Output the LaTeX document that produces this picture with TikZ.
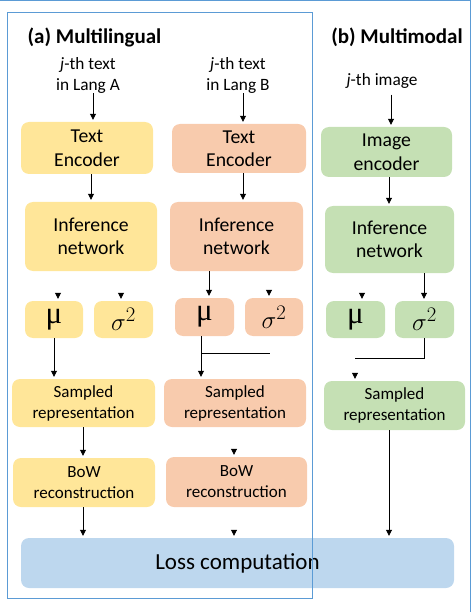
\documentclass[tikz,border=0pt]{standalone}
\usepackage{fontspec}
\setmainfont{Carlito}
\newfontfamily\grkfont{Liberation Serif}
\usetikzlibrary{arrows.meta,calc}
\definecolor{cyel}{HTML}{FFE699}
\definecolor{corg}{HTML}{F8CBAD}
\definecolor{cgrn}{HTML}{C5E0B4}
\definecolor{cblu}{HTML}{BDD7EE}
\definecolor{cfrm}{HTML}{5B9BD5}
\newcommand\fsml{\fontsize{17.3}{21}\selectfont}
\newcommand\fmid{\fontsize{17}{21}\selectfont}
\newcommand\fbig{\fontsize{19.7}{23.5}\selectfont}
\newcommand\fhuge{\fontsize{23}{26}\selectfont}
\newcommand\fttl{\fontsize{21}{24}\selectfont\bfseries}
\newcommand\fgrk{\fontsize{31}{34}\selectfont}
\begin{document}
\begin{tikzpicture}[x=1pt,y=-1pt,
  box/.style={rounded corners=8pt, inner sep=0pt, align=center, text=black},
  arr/.style={-{Triangle[length=6pt,width=6pt]}, line width=0.8pt, shorten >=2pt},
  plain/.style={line width=0.8pt},
  frm/.style={draw=cfrm, line width=1pt},
  lbl/.style={align=center, inner sep=0pt, font=\fsml}]
\useasboundingbox (0,0) rectangle (472,612);

% titles
\node[inner sep=0pt, font=\fttl] (ttlA) at (94.5,37) {(a) Multilingual};
\node[inner sep=0pt, font=\fttl] (ttlB) at (397,37) {(b) Multimodal};

% inputs
\node[lbl] (inA) at (88,75) {\textit{j}-th text\\ in Lang A};
\node[lbl] (inB) at (238,75) {\textit{j}-th text\\ in Lang B};
\node[lbl] (inC) at (382,81) {\textit{j}-th image};

% encoders
\node[box, fill=cyel, minimum width=132pt, minimum height=52pt, font=\fbig] (teA) at (87,148) {Text\\Encoder};
\node[box, fill=corg, minimum width=134pt, minimum height=49pt, font=\fbig] (teB) at (239,148.5) {Text\\Encoder};
\node[box, fill=cgrn, minimum width=131pt, minimum height=50pt, font=\fbig] (ieC) at (386.5,152) {Image\\encoder};

% inference
\node[box, fill=cyel, minimum width=132pt, minimum height=69pt, font=\fbig] (infA) at (91,236.5) {Inference\\network};
\node[box, fill=corg, minimum width=133pt, minimum height=69pt, font=\fbig] (infB) at (236.5,236.5) {Inference\\network};
\node[box, fill=cgrn, minimum width=129pt, minimum height=67pt, font=\fbig] (infC) at (389.5,239.5) {Inference\\network};

% mu / sigma
\node[box, fill=cyel, minimum width=58pt, minimum height=37pt] (muA) at (54,319.5) {\fgrk\grkfont μ};
\node[box, fill=cyel, minimum width=59pt, minimum height=37pt] (sgA) at (123.5,319.5) {\fgrk$\sigma^{2}$};
\node[box, fill=corg, minimum width=59pt, minimum height=38pt] (muB) at (204.5,317) {\fgrk\grkfont μ};
\node[box, fill=corg, minimum width=58pt, minimum height=38pt] (sgB) at (274,317) {\fgrk$\sigma^{2}$};
\node[box, fill=cgrn, minimum width=59pt, minimum height=37pt] (muC) at (355.5,319.5) {\fgrk\grkfont μ};
\node[box, fill=cgrn, minimum width=59pt, minimum height=37pt] (sgC) at (424.5,319.5) {\fgrk$\sigma^{2}$};

% sampled
\node[box, fill=cyel, minimum width=143pt, minimum height=48pt, font=\fmid] (saA) at (83.5,403) {Sampled\\representation};
\node[box, fill=corg, minimum width=142pt, minimum height=48pt, font=\fmid] (saB) at (235,403) {Sampled\\representation};
\node[box, fill=cgrn, minimum width=141pt, minimum height=49pt, font=\fmid] (saC) at (394.5,405.5) {Sampled\\representation};

% BoW
\node[box, fill=cyel, minimum width=142pt, minimum height=49pt, font=\fmid] (bowA) at (84,482.5) {BoW\\reconstruction};
\node[box, fill=corg, minimum width=141pt, minimum height=50pt, font=\fmid] (bowB) at (236.5,482) {BoW\\reconstruction};

% loss
\node[box, fill=cblu, minimum width=433pt, minimum height=50pt, font=\fhuge] (loss) at (237.5,563) {Loss computation};

% connectors
\draw[arr] (93,0 |- inA.south) -- (93,0 |- teA.north);
\draw[arr] (243,0 |- inB.south) -- (243,0 |- teB.north);
\draw[arr] (391,0 |- inC.south) ++(0,6) -- (391,0 |- ieC.north);
\draw[arr] (91,0 |- teA.south) -- (91,0 |- infA.north);
\draw[arr] (243,0 |- teB.south) -- (243,0 |- infB.north);
\draw[arr] (389,0 |- ieC.south) -- (389,0 |- infC.north);

\coordinate (hA1) at (58,293);
\coordinate (hA2) at (121,293);
\coordinate (hB2) at (269,290);
\coordinate (hC1) at (362,293);
\draw[arr] (hA1) -- (hA1 |- muA.north);
\draw[arr] (hA2) -- (hA2 |- sgA.north);
\draw[arr] (209,0 |- infB.south) -- (209,0 |- muB.north);
\draw[arr] (hB2) -- (hB2 |- sgB.north);
\draw[arr] (hC1) -- (hC1 |- muC.north);
\draw[arr] (424,0 |- infC.south) -- (424,0 |- sgC.north);

\draw[arr] (54,0 |- muA.south) -- (54,0 |- saA.north);
\draw[arr] (201,0 |- muB.south) -- (201,0 |- saB.north);
\coordinate (bB1) at (201,353);
\coordinate (bB2) at (270,353);
\draw[plain] (bB1) -- (bB2);
\coordinate (cC) at (355,358);
\draw[plain] (424,0 |- sgC.south) |- (cC);
\coordinate (hC3) at (355,373);
\draw[arr] (hC3) -- (hC3 |- saC.north);

\draw[arr] (83,0 |- saA.south) -- (83,0 |- bowA.north);
\coordinate (hB4) at (234,449);
\draw[arr] (hB4) -- (hB4 |- bowB.north);
\draw[arr] (83,0 |- bowA.south) -- (83,0 |- loss.north);
\coordinate (hB5) at (234,530);
\draw[arr] (hB5) -- (hB5 |- loss.north);
\draw[arr] (389,0 |- saC.south) -- (389,0 |- loss.north);

% frames
\draw[frm] (7.5,12.7) rectangle (312.7,598);
\draw[frm] (0,1) -- (470.5,1) -- (470.5,612);
\end{tikzpicture}
\end{document}
